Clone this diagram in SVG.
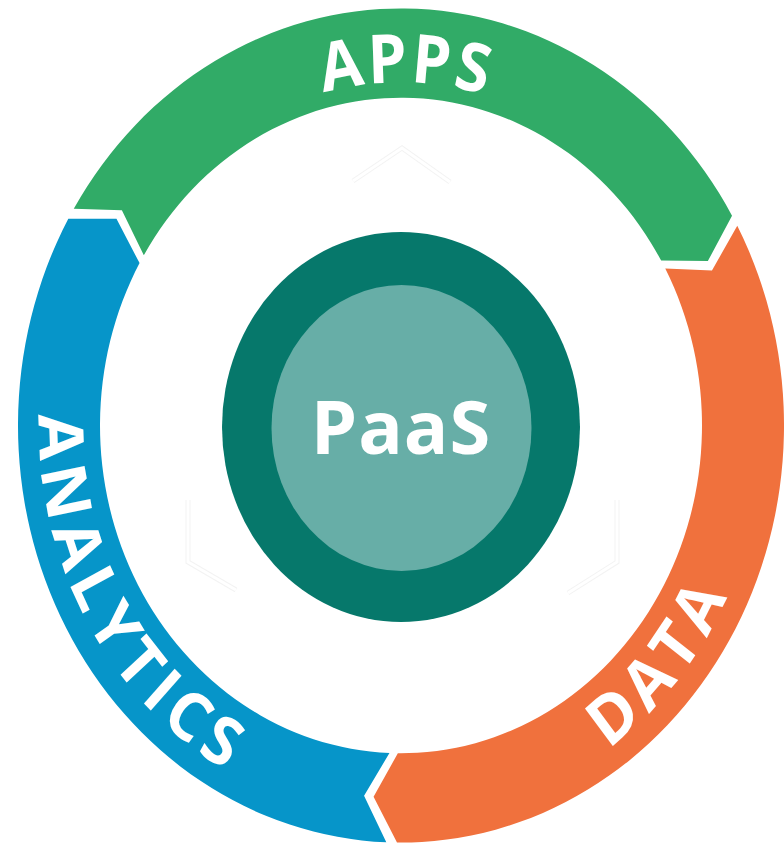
<svg xmlns="http://www.w3.org/2000/svg" width="784" height="848" viewBox="0 0 784 848">
<style>
.lbl{font-family:"Open Sans","Liberation Sans",sans-serif;font-weight:700;fill:#ffffff;font-size:62px}
.ghost{fill:none;stroke:#f3f3f3;stroke-width:5;stroke-linejoin:miter}
.ghostin{fill:none;stroke:#ffffff;stroke-width:3;stroke-linejoin:miter}
</style>
<defs>
<path id="pApps" d="M -315 0 A 315 315 0 0 1 315 0"/>
<path id="pAnalytics" d="M -186.44 -310.30 A 362 362 0 0 0 186.44 310.30"/>
<path id="pData" d="M -232.69 277.31 A 362 362 0 0 0 232.69 -277.31"/>
</defs>
<rect width="784" height="848" fill="#ffffff"/>
<g id="ghosts">
<polyline class="ghost" points="353,181 402,148 450,182"/>
<polyline class="ghostin" points="353,181 402,148 450,182"/>
<polyline class="ghost" points="188,500 188,562 236,590"/>
<polyline class="ghostin" points="188,500 188,562 236,590"/>
<polyline class="ghost" points="617,500 617,562 568,593"/>
<polyline class="ghostin" points="617,500 617,562 568,593"/>
</g>
<g transform="translate(401,425.5) scale(1,1.089)">
<g id="analytics">
<path fill="#0695c9" d="M -14.70 382.72 A 383 383 0 0 1 -332.69 -189.76 L -284.53 -189.76 L -261.46 -149.13 A 301 301 0 0 0 -11.56 300.78 L -36.94 340.00 Z"/>
<text class="lbl" letter-spacing="7"><textPath href="#pAnalytics" startOffset="49.6%" text-anchor="middle">ANALYTICS</textPath></text>
</g>
<g id="apps">
<path fill="#31ab67" d="M -327.24 -198.98 A 383 383 0 0 1 331.02 -192.66 L 306.86 -151.00 L 260.15 -151.41 A 301 301 0 0 0 -257.18 -156.38 L -279.12 -197.63 Z"/>
<text class="lbl" letter-spacing="3"><textPath href="#pApps" startOffset="50.5%" text-anchor="middle">APPS</textPath></text>
</g>
<g id="data">
<path fill="#f0713d" d="M 336.27 -183.34 A 383 383 0 0 1 -4.01 382.98 L -27.43 340.90 L -3.15 300.98 A 301 301 0 0 0 264.27 -144.09 L 310.96 -142.37 Z"/>
<text class="lbl" letter-spacing="6"><textPath href="#pData" startOffset="50%" text-anchor="middle">DATA</textPath></text>
</g>
</g>
<g id="paas">
<ellipse cx="401" cy="427" rx="179" ry="195" fill="#06786b"/>
<ellipse cx="401.5" cy="428" rx="130" ry="143" fill="#67aea7"/>
<text x="401" y="454" text-anchor="middle" font-family="'Open Sans','Liberation Sans',sans-serif" font-weight="700" font-size="74" fill="#ffffff" letter-spacing="1">PaaS</text>
</g>
</svg>
